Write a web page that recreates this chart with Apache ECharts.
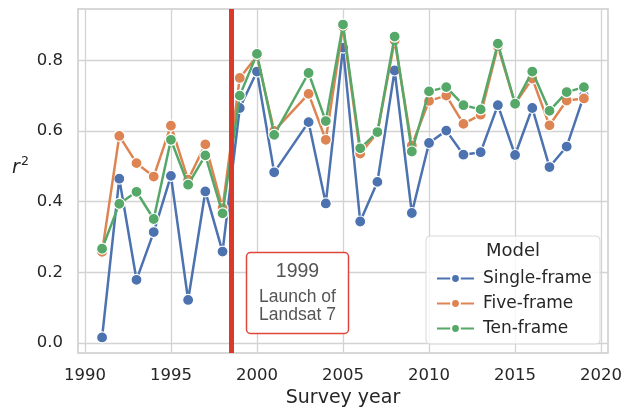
<!DOCTYPE html>
<html>
<head>
<meta charset="utf-8">
<script src="https://cdn.jsdelivr.net/npm/echarts@6/dist/echarts.min.js"></script>
<style>
  html, body { margin: 0; padding: 0; background: #fff; }
  #chart { width: 634px; height: 414px; }
</style>
</head>
<body>
<div id="chart"></div>
<script>
// survey years (no survey in 2002)
const years = [1991, 1992, 1993, 1994, 1995, 1996, 1997, 1998, 1999, 2000, 2001, 2003, 2004, 2005,
  2006, 2007, 2008, 2009, 2010, 2011, 2012, 2013, 2014, 2015, 2016, 2017, 2018, 2019];
const singleFrame = [0.016, 0.465, 0.179, 0.314, 0.473, 0.122, 0.429, 0.259, 0.665, 0.768, 0.483, 0.625, 0.395, 0.836,
  0.344, 0.456, 0.771, 0.368, 0.566, 0.601, 0.533, 0.540, 0.673, 0.532, 0.665, 0.498, 0.556, 0.700];
const fiveFrame = [0.258, 0.586, 0.509, 0.471, 0.615, 0.462, 0.562, 0.382, 0.750, 0.812, 0.600, 0.705, 0.575, 0.895,
  0.536, 0.595, 0.856, 0.559, 0.685, 0.700, 0.620, 0.646, 0.839, 0.677, 0.748, 0.616, 0.686, 0.692];
const tenFrame = [0.267, 0.394, 0.428, 0.351, 0.575, 0.448, 0.531, 0.367, 0.700, 0.818, 0.589, 0.764, 0.628, 0.901,
  0.551, 0.597, 0.867, 0.542, 0.712, 0.724, 0.673, 0.661, 0.847, 0.677, 0.768, 0.657, 0.710, 0.724];
const seriesNames = ['Single-frame', 'Five-frame', 'Ten-frame'];
const xTicks = [1990, 1995, 2000, 2005, 2010, 2015, 2020];
const yTicks = [0, 0.2, 0.4, 0.6, 0.8];
const launchYear = 1998.5;

const colors = ['#4c72b0', '#dd8452', '#55a868'];
const textColor = '#262626';
const font = 'DejaVu Sans';

const chart = echarts.init(document.getElementById('chart'), null, { renderer: 'canvas' });

function makeSeries(name, values, i) {
  return {
    name: name,
    type: 'line',
    data: years.map((y, k) => [y, values[k]]),
    symbol: 'circle',
    symbolSize: 11,
    z: 2 + i,
    lineStyle: { width: 2.5, color: colors[i] },
    itemStyle: { color: colors[i], borderColor: '#fff', borderWidth: 1.2 },
    emphasis: { disabled: true },
    animation: false
  };
}

chart.setOption({
  animation: false,
  grid: {
    left: 78, right: 26, top: 9, bottom: 61,
    show: true, borderColor: '#cccccc', borderWidth: 1.5, backgroundColor: '#fff'
  },
  xAxis: {
    type: 'value',
    min: 1989.6, max: 2020.4,
    name: 'Survey year',
    nameLocation: 'middle',
    nameGap: 36,
    nameTextStyle: { fontFamily: font, fontSize: 19, color: textColor },
    axisLine: { show: false },
    axisTick: { show: false, customValues: xTicks },
    axisLabel: {
      customValues: xTicks, fontFamily: font, fontSize: 16.5, color: textColor, margin: 14,
      formatter: v => String(v)
    },
    splitLine: { show: true, lineStyle: { color: '#d3d3d3', width: 1.3 } }
  },
  yAxis: {
    type: 'value',
    min: -0.028, max: 0.945,
    axisLine: { show: false },
    axisTick: { show: false, customValues: yTicks },
    axisLabel: {
      customValues: yTicks, fontFamily: font, fontSize: 16.5, color: textColor, margin: 15,
      formatter: v => v.toFixed(1)
    },
    splitLine: { show: true, lineStyle: { color: '#d3d3d3', width: 1.3 } }
  },
  legend: {
    data: seriesNames,
    orient: 'vertical',
    left: 431, top: 265,
    itemWidth: 37, itemHeight: 11,
    itemGap: 8,
    z: 20,
    textStyle: { fontFamily: font, fontSize: 17, color: textColor, padding: [0, 0, 0, 4] }
  },
  series: [
    makeSeries(seriesNames[0], singleFrame, 0),
    makeSeries(seriesNames[1], fiveFrame, 1),
    makeSeries(seriesNames[2], tenFrame, 2),
    {
      name: 'launch',
      type: 'line',
      data: [],
      z: 6,
      markLine: {
        silent: true,
        symbol: ['none', 'none'],
        label: { show: false },
        lineStyle: { color: '#db3a2b', width: 5, type: 'solid' },
        data: [{ xAxis: launchYear }]
      }
    }
  ],
  graphic: [
    // y axis label r^2
    { type: 'text', left: 12, top: 159, z: 10,
      style: { text: 'r', fontFamily: font, fontStyle: 'italic', fontSize: 19, fill: textColor } },
    { type: 'text', left: 21, top: 155, z: 10,
      style: { text: '2', fontFamily: font, fontSize: 12.5, fill: textColor } },
    // annotation box
    { type: 'rect', z: 10,
      shape: { x: 246.5, y: 252.5, width: 102, height: 81, r: 4 },
      style: { fill: '#fff', stroke: '#e0473a', lineWidth: 1.5 } },
    { type: 'text', z: 11, x: 297.5, y: 272,
      style: { text: '1999', fontFamily: 'Liberation Sans', fontSize: 19.5, fill: '#555',
        align: 'center', verticalAlign: 'middle' } },
    { type: 'text', z: 11, x: 297.5, y: 297,
      style: { text: 'Launch of', fontFamily: 'Liberation Sans', fontSize: 17.5, fill: '#555',
        align: 'center', verticalAlign: 'middle' } },
    { type: 'text', z: 11, x: 297.5, y: 315.5,
      style: { text: 'Landsat 7', fontFamily: 'Liberation Sans', fontSize: 17.5, fill: '#555',
        align: 'center', verticalAlign: 'middle' } },
    // legend frame and title
    { type: 'rect', z: 15,
      shape: { x: 426, y: 236, width: 174, height: 108, r: 4 },
      style: { fill: 'rgba(255,255,255,0.8)', stroke: '#d9d9d9', lineWidth: 1 } },
    { type: 'text', z: 16, x: 513, y: 251,
      style: { text: 'Model', fontFamily: font, fontSize: 18, fill: textColor,
        align: 'center', verticalAlign: 'middle' } }
  ]
});
</script>
</body>
</html>
